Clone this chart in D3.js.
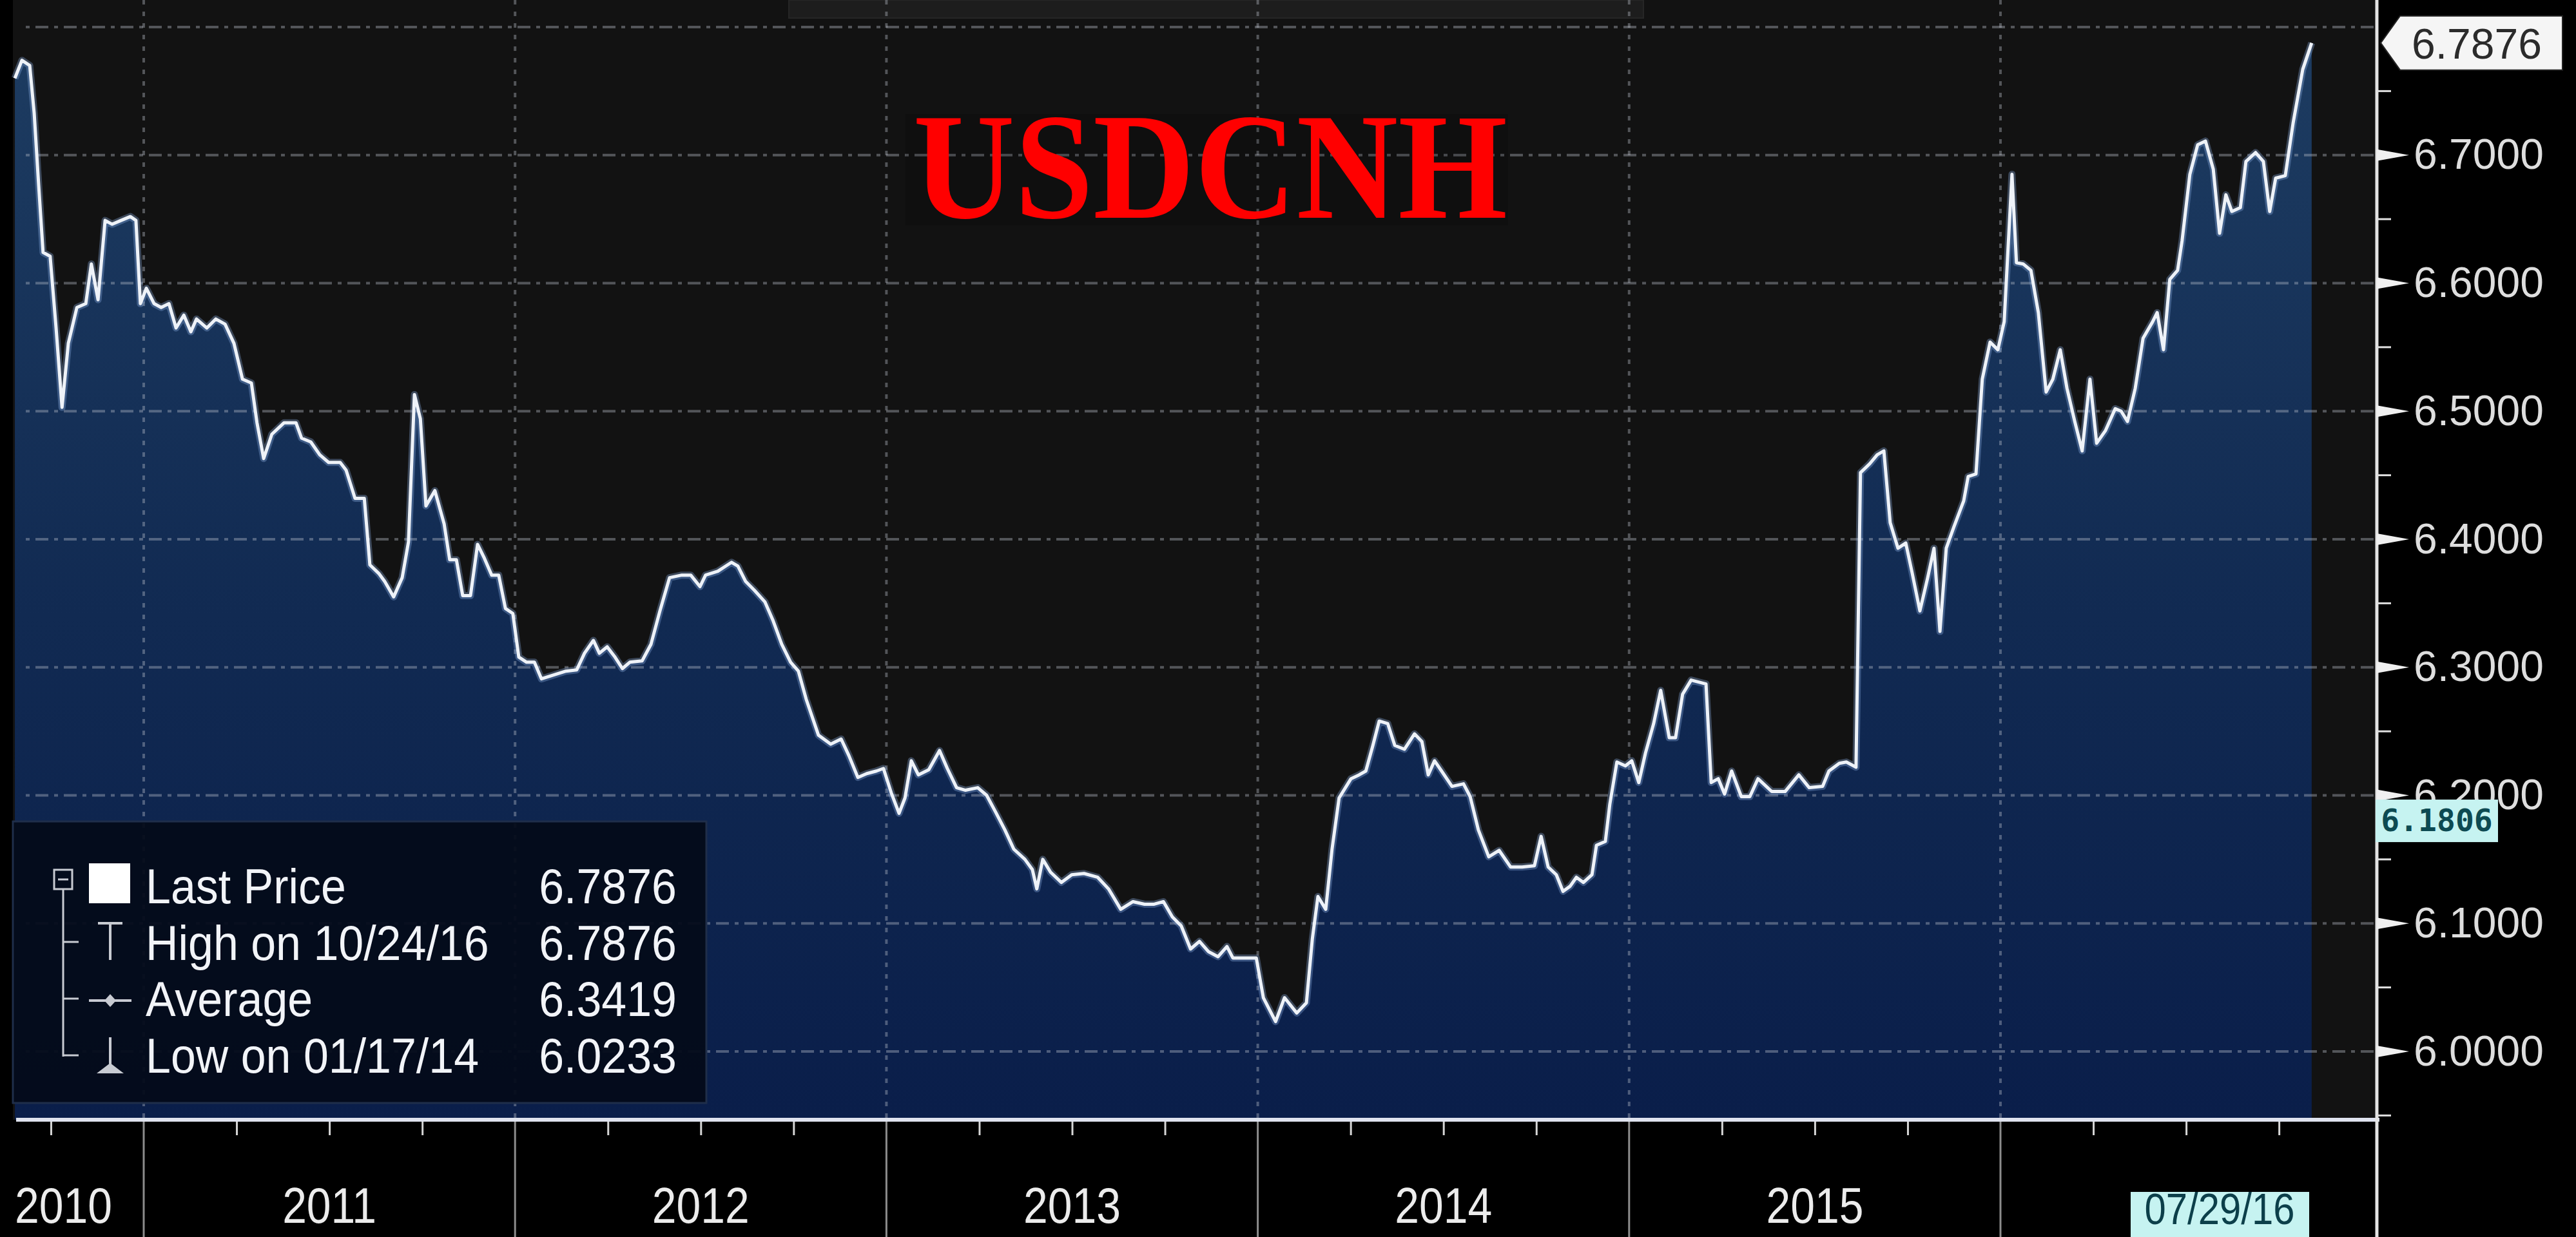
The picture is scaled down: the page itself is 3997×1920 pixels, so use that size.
<!DOCTYPE html>
<html><head><meta charset="utf-8">
<script src="https://cdn.jsdelivr.net/npm/d3@7"></script>
<style>html,body{margin:0;padding:0;background:#000;overflow:hidden}</style>
</head><body><svg id="c" width="3997" height="1920"></svg>
<script>
// ---------- DATA (decimal years, USDCNH weekly close) ----------
const dates = [
2010.653,2010.672,2010.693,2010.705,2010.717,2010.729,2010.748,2010.764,2010.780,2010.797,
2010.820,2010.844,2010.859,2010.877,2010.896,2010.915,2010.939,2010.964,2010.979,2010.991,
2011.007,2011.028,2011.047,2011.068,2011.087,2011.108,2011.127,2011.142,2011.170,2011.194,
2011.219,2011.243,2011.266,2011.290,2011.305,2011.323,2011.345,2011.378,2011.410,2011.425,
2011.450,2011.474,2011.498,2011.529,2011.545,2011.569,2011.594,2011.609,2011.634,2011.649,
2011.673,2011.696,2011.713,2011.729,2011.745,2011.760,2011.784,2011.809,2011.824,2011.842,
2011.859,2011.880,2011.899,2011.916,2011.937,2011.956,2011.974,2011.994,2012.010,2012.031,
2012.052,2012.071,2012.104,2012.137,2012.166,2012.187,2012.211,2012.227,2012.248,2012.269,
2012.289,2012.309,2012.342,2012.366,2012.390,2012.416,2012.449,2012.473,2012.498,2012.513,
2012.546,2012.567,2012.583,2012.600,2012.621,2012.645,2012.673,2012.694,2012.718,2012.742,
2012.763,2012.784,2012.817,2012.850,2012.878,2012.899,2012.923,2012.947,2012.973,2012.992,
2013.013,2013.034,2013.050,2013.067,2013.086,2013.114,2013.143,2013.164,2013.189,2013.213,
2013.246,2013.270,2013.294,2013.319,2013.343,2013.373,2013.393,2013.405,2013.421,2013.442,
2013.471,2013.499,2013.532,2013.569,2013.598,2013.631,2013.664,2013.695,2013.721,2013.746,
2013.770,2013.794,2013.819,2013.843,2013.867,2013.893,2013.917,2013.933,2013.966,2013.996,
2014.015,2014.048,2014.072,2014.105,2014.131,2014.147,2014.162,2014.183,2014.200,2014.219,
2014.251,2014.273,2014.291,2014.310,2014.327,2014.350,2014.369,2014.395,2014.422,2014.442,
2014.459,2014.476,2014.495,2014.523,2014.554,2014.572,2014.594,2014.622,2014.650,2014.681,
2014.712,2014.745,2014.763,2014.782,2014.804,2014.822,2014.841,2014.858,2014.877,2014.900,
2014.912,2014.936,2014.948,2014.967,2014.990,2015.007,2015.026,2015.044,2015.066,2015.085,
2015.108,2015.125,2015.144,2015.167,2015.207,2015.221,2015.240,2015.257,2015.276,2015.302,
2015.325,2015.347,2015.384,2015.420,2015.457,2015.485,2015.521,2015.538,2015.566,2015.585,
2015.611,2015.623,2015.648,2015.668,2015.686,2015.703,2015.724,2015.745,2015.762,2015.783,
2015.804,2015.821,2015.837,2015.854,2015.875,2015.901,2015.913,2015.934,2015.951,2015.972,
2015.993,2016.010,2016.031,2016.043,2016.061,2016.082,2016.102,2016.123,2016.141,2016.161,
2016.179,2016.200,2016.220,2016.241,2016.259,2016.283,2016.309,2016.325,2016.342,2016.363,
2016.384,2016.410,2016.422,2016.439,2016.456,2016.477,2016.489,2016.510,2016.531,2016.552,
2016.573,2016.590,2016.607,2016.623,2016.646,2016.661,2016.687,2016.708,2016.725,2016.741,
2016.767,2016.788,2016.814,2016.838];
const prices = [
6.760,6.774,6.770,6.733,6.677,6.624,6.621,6.565,6.503,6.553,
6.581,6.584,6.615,6.587,6.649,6.646,6.649,6.652,6.649,6.584,
6.596,6.584,6.581,6.584,6.565,6.575,6.562,6.572,6.565,6.572,
6.568,6.553,6.525,6.522,6.491,6.463,6.482,6.491,6.491,6.479,
6.476,6.466,6.460,6.460,6.454,6.432,6.432,6.380,6.373,6.367,
6.355,6.370,6.398,6.513,6.494,6.426,6.438,6.412,6.384,6.384,
6.356,6.356,6.396,6.386,6.372,6.372,6.346,6.342,6.308,6.304,
6.304,6.291,6.294,6.297,6.298,6.311,6.321,6.311,6.316,6.308,
6.299,6.304,6.305,6.318,6.344,6.370,6.372,6.372,6.363,6.372,
6.375,6.379,6.382,6.379,6.367,6.360,6.351,6.337,6.318,6.304,
6.297,6.275,6.247,6.240,6.244,6.231,6.214,6.217,6.219,6.221,
6.202,6.186,6.198,6.227,6.216,6.220,6.235,6.221,6.206,6.204,
6.206,6.200,6.187,6.173,6.158,6.150,6.142,6.127,6.150,6.140,
6.132,6.138,6.139,6.136,6.127,6.111,6.117,6.115,6.115,6.117,
6.105,6.098,6.080,6.086,6.078,6.074,6.082,6.073,6.073,6.073,
6.042,6.0233,6.042,6.030,6.038,6.088,6.121,6.111,6.158,6.198,
6.213,6.216,6.219,6.239,6.258,6.256,6.239,6.236,6.248,6.242,
6.216,6.227,6.219,6.207,6.209,6.199,6.173,6.152,6.157,6.144,
6.144,6.145,6.168,6.144,6.138,6.125,6.129,6.136,6.132,6.138,
6.161,6.164,6.193,6.226,6.223,6.227,6.210,6.233,6.256,6.282,
6.245,6.245,6.279,6.290,6.287,6.210,6.213,6.201,6.219,6.199,
6.199,6.213,6.203,6.203,6.216,6.206,6.207,6.219,6.225,6.226,
6.222,6.452,6.459,6.466,6.469,6.413,6.393,6.397,6.374,6.344,
6.370,6.393,6.328,6.393,6.410,6.430,6.449,6.451,6.525,6.554,
6.548,6.570,6.685,6.616,6.615,6.610,6.577,6.515,6.525,6.548,
6.518,6.492,6.469,6.525,6.475,6.485,6.502,6.500,6.492,6.518,
6.557,6.570,6.577,6.548,6.603,6.610,6.633,6.685,6.708,6.711,
6.689,6.639,6.669,6.656,6.659,6.695,6.702,6.695,6.656,6.682,
6.684,6.725,6.767,6.7876];

const yTickValues = [6.0,6.1,6.2,6.3,6.4,6.5,6.6,6.7];
const yMinorValues = [5.95,6.05,6.15,6.25,6.35,6.45,6.55,6.65,6.75];
const gridValues = [6.0,6.1,6.2,6.3,6.4,6.5,6.6,6.7,6.8];
const yearBoundaries = [2011,2012,2013,2014,2015,2016];
const quarterTicks = [2010.75,2011.25,2011.5,2011.75,2012.25,2012.5,2012.75,2013.25,2013.5,2013.75,
  2014.25,2014.5,2014.75,2015.25,2015.5,2015.75,2016.25,2016.5,2016.75];
const yearLabels = ["2010","2011","2012","2013","2014","2015"];
const yearLabelAt = [null,2011.5,2012.5,2013.5,2014.5,2015.5];
const legendLabels = ["Last Price","High on 10/24/16","Average","Low on 01/17/14"];
const legendValues = ["6.7876","6.7876","6.3419","6.0233"];
const lastPrice = 6.7876;
const cursorValue = 6.1806;
const cursorDateLabel = "07/29/16";
const titleText = "USDCNH";

const data = dates.map((t,i)=>({t, v: prices[i]}));

// ---------- LAYOUT ----------
const W = 3997, H = 1920;
const plotLeft = 20, plotRight = 3688, plotTop = 0, plotBottom = 1738;
const x = d3.scaleLinear().domain([2011, 2016]).range([223, 3104]);
const y = d3.scaleLinear().domain([6.0, 6.8]).range([1632, 42]);

const svg = d3.select("#c");
svg.append("rect").attr("width", W).attr("height", H).attr("fill", "#000");

const defs = svg.append("defs");
const grad = defs.append("linearGradient").attr("id","fillGrad")
  .attr("gradientUnits","userSpaceOnUse").attr("x1",0).attr("y1",0).attr("x2",0).attr("y2",plotBottom);
grad.append("stop").attr("offset",0).attr("stop-color","#1e3d62");
grad.append("stop").attr("offset",0.55).attr("stop-color","#112a52");
grad.append("stop").attr("offset",1).attr("stop-color","#0a1e4a");

// plot background
svg.append("rect").attr("x",plotLeft).attr("y",plotTop)
  .attr("width",plotRight-plotLeft).attr("height",plotBottom-plotTop).attr("fill","#121212");
svg.append("rect").attr("x",1224).attr("y",0).attr("width",1326).attr("height",28)
  .attr("fill","#1d1d1d").attr("stroke","#262626").attr("stroke-width",2);

// area
const area = d3.area().x(d=>x(d.t)).y0(plotBottom).y1(d=>y(d.v));
svg.append("path").datum(data).attr("d",area).attr("fill","url(#fillGrad)");

// grid
const grid = svg.append("g");
grid.selectAll("line.h").data(gridValues).join("line")
  .attr("x1",plotLeft+20).attr("x2",plotRight).attr("y1",d=>y(d)).attr("y2",d=>y(d))
  .attr("stroke","rgba(190,195,205,0.38)").attr("stroke-width",4)
  .attr("stroke-dasharray","6,9,20,9");
grid.selectAll("line.v").data(yearBoundaries).join("line")
  .attr("x1",d=>x(d)).attr("x2",d=>x(d)).attr("y1",plotTop).attr("y2",plotBottom)
  .attr("stroke","rgba(190,195,205,0.38)").attr("stroke-width",4)
  .attr("stroke-dasharray","7,11");

// title
svg.append("rect").attr("x",1405).attr("y",177).attr("width",935).attr("height",173)
  .attr("fill","rgba(0,0,0,0.12)");
svg.append("text").attr("x",1417).attr("y",338).text(titleText)
  .attr("font-family","Liberation Serif, Times New Roman, serif").attr("font-weight","bold")
  .attr("font-size",236).attr("fill","#ff0000")
  .attr("textLength",922).attr("lengthAdjust","spacingAndGlyphs");

// line
const line = d3.line().x(d=>x(d.t)).y(d=>y(d.v));
svg.append("path").datum(data).attr("d",line).attr("fill","none")
  .attr("stroke","rgba(140,175,225,0.35)").attr("stroke-width",11).attr("stroke-linejoin","round");
svg.append("path").datum(data).attr("d",line).attr("fill","none")
  .attr("stroke","#eef2f8").attr("stroke-width",5).attr("stroke-linejoin","round");

// bottom axis
svg.selectAll("line.yr").data(yearBoundaries).join("line")
  .attr("x1",d=>x(d)).attr("x2",d=>x(d)).attr("y1",plotBottom).attr("y2",H)
  .attr("stroke","#8c8c8c").attr("stroke-width",3);
const xAxis = d3.axisBottom(x).tickValues(quarterTicks).tickSize(24).tickFormat("");
const gx = svg.append("g").attr("transform",`translate(0,${plotBottom})`).call(xAxis);
gx.select(".domain").remove();
gx.selectAll(".tick line").attr("stroke","#d6d6d6").attr("stroke-width",3);
svg.append("line").attr("x1",25).attr("x2",plotRight+4).attr("y1",plotBottom).attr("y2",plotBottom)
  .attr("stroke","#dfe3ef").attr("stroke-width",6);

function condense(sel, f){
  sel.each(function(){ const L=this.getComputedTextLength();
    d3.select(this).attr("textLength",L*f).attr("lengthAdjust","spacingAndGlyphs"); });
}
const yl = svg.selectAll("text.yl").data(yearLabels).join("text")
  .attr("x",(d,i)=> yearLabelAt[i]===null ? x(dates[0]) : x(yearLabelAt[i]))
  .attr("text-anchor",(d,i)=> yearLabelAt[i]===null ? "start":"middle")
  .attr("y",1898).text(d=>d)
  .attr("font-family","Liberation Sans, Arial, sans-serif").attr("font-size",78)
  .attr("fill","#ececec");
condense(yl,0.87);

// cursor date tag
svg.append("rect").attr("x",3306).attr("y",1850).attr("width",277).attr("height",70).attr("fill","#c6f3f1");
const dt = svg.append("text").attr("x",3444).attr("y",1900).attr("text-anchor","middle").text(cursorDateLabel)
  .attr("font-family","Liberation Sans, Arial, sans-serif").attr("font-size",68).attr("fill","#0c3f4a");
condense(dt,0.88);

// right axis
svg.append("line").attr("x1",plotRight).attr("x2",plotRight).attr("y1",0).attr("y2",H)
  .attr("stroke","#e4e4e4").attr("stroke-width",5);
svg.selectAll("path.wedge").data(yTickValues).join("path")
  .attr("d",d=>`M${plotRight},${y(d)-9}L${plotRight+50},${y(d)}L${plotRight},${y(d)+9}Z`)
  .attr("fill","#f0f0f0");
svg.selectAll("line.minor").data(yMinorValues).join("line")
  .attr("x1",plotRight).attr("x2",plotRight+22).attr("y1",d=>y(d)).attr("y2",d=>y(d))
  .attr("stroke","#e0e0e0").attr("stroke-width",3);
const yAxis = d3.axisRight(y).tickValues(yTickValues).tickSize(0).tickPadding(57)
  .tickFormat(d3.format(".4f"));
const gy = svg.append("g").attr("transform",`translate(${plotRight},0)`).call(yAxis);
gy.select(".domain").remove();
gy.selectAll("text").attr("font-family","Liberation Sans, Arial, sans-serif")
  .attr("font-size",66).attr("fill","#dedede");

// last price tag
const ly = y(lastPrice);
svg.append("path").attr("d",`M${plotRight+6},${ly}L${3724},${ly-42}L3976,${ly-42}L3976,${ly+42}L3724,${ly+42}Z`)
  .attr("fill","#f5f5f5").attr("stroke","#222").attr("stroke-width",2);
svg.append("text").attr("x",3742).attr("y",ly+24).text(d3.format(".4f")(lastPrice))
  .attr("font-family","Liberation Sans, Arial, sans-serif").attr("font-size",66).attr("fill","#2b2b2b");

// cursor value tag
const cy = y(cursorValue);
svg.append("rect").attr("x",plotRight-2).attr("y",cy-32).attr("width",190).attr("height",66).attr("fill","#c6f3f1");
svg.append("text").attr("x",plotRight+93).attr("y",cy+17).attr("text-anchor","middle").text(d3.format(".4f")(cursorValue))
  .attr("font-family","DejaVu Sans Mono, monospace").attr("font-weight","bold")
  .attr("font-size",48).attr("fill","#0d4a52");

// legend
const lg = svg.append("g");
lg.append("rect").attr("x",20).attr("y",1275).attr("width",1076).attr("height",437)
  .attr("fill","rgba(4,11,26,0.94)").attr("stroke","#1f2e4a").attr("stroke-width",3);
const rowY = [1402,1490,1577,1665];
const labs = lg.selectAll("text.lab").data(legendLabels).join("text")
  .attr("x",226).attr("y",(d,i)=>rowY[i]).text(d=>d)
  .attr("font-family","Liberation Sans, Arial, sans-serif").attr("font-size",76).attr("fill","#f2f4f8");
condense(labs,0.92);
const vals = lg.selectAll("text.val").data(legendValues).join("text")
  .attr("x",1050).attr("y",(d,i)=>rowY[i]).attr("text-anchor","end").text(d=>d)
  .attr("font-family","Liberation Sans, Arial, sans-serif").attr("font-size",76).attr("fill","#f2f4f8");
condense(vals,0.92);
const ic = "#c8cbd2";
lg.append("rect").attr("x",84).attr("y",1350).attr("width",28).attr("height",30).attr("fill","none").attr("stroke",ic).attr("stroke-width",3);
lg.append("line").attr("x1",90).attr("x2",106).attr("y1",1365).attr("y2",1365).attr("stroke",ic).attr("stroke-width",3);
lg.append("line").attr("x1",98).attr("x2",98).attr("y1",1380).attr("y2",1640).attr("stroke",ic).attr("stroke-width",3);
[1462,1550,1638].forEach(v=>lg.append("line").attr("x1",98).attr("x2",122).attr("y1",v).attr("y2",v).attr("stroke",ic).attr("stroke-width",3));
lg.append("rect").attr("x",138).attr("y",1340).attr("width",64).attr("height",62).attr("fill","#ffffff");
lg.append("line").attr("x1",152).attr("x2",190).attr("y1",1433).attr("y2",1433).attr("stroke",ic).attr("stroke-width",4);
lg.append("line").attr("x1",171).attr("x2",171).attr("y1",1433).attr("y2",1490).attr("stroke",ic).attr("stroke-width",4);
lg.append("line").attr("x1",138).attr("x2",204).attr("y1",1553).attr("y2",1553).attr("stroke",ic).attr("stroke-width",4);
lg.append("path").attr("d","M171,1543L180,1553L171,1563L162,1553Z").attr("fill",ic);
lg.append("line").attr("x1",171).attr("x2",171).attr("y1",1610).attr("y2",1662).attr("stroke",ic).attr("stroke-width",4);
lg.append("path").attr("d","M171,1650L192,1666L150,1666Z").attr("fill",ic);
</script></body></html>
